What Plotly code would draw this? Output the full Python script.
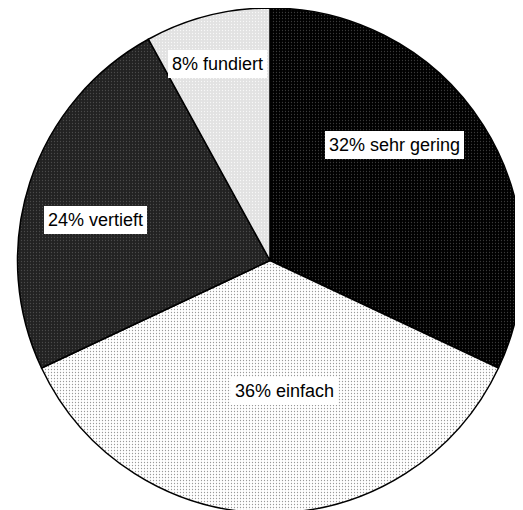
import plotly.graph_objects as go

labels = ["sehr gering", "einfach", "vertieft", "fundiert"]
values = [32, 36, 24, 8]

bg_colors = ["#000000", "#ffffff", "#222222", "#e2e2e2"]
dot_colors = ["#3a3a3a", "#9a9a9a", "#4a4a4a", "#f8f8f8"]

# the page body has an 8px margin; the figure is a little taller than the window so the pie is cut at the bottom
OFF = 8
W, H = 515, 505
cx, cy, R = 262, 252.5, 252.5

fig = go.Figure(go.Pie(
    labels=labels,
    values=values,
    sort=False,
    direction="clockwise",
    rotation=0,
    textinfo="none",
    hoverinfo="label+percent",
    showlegend=False,
    marker=dict(
        colors=bg_colors,
        line=dict(color="#000000", width=1.5),
        pattern=dict(shape=".", fgcolor=dot_colors, bgcolor=bg_colors,
                     size=3, solidity=0.14, fillmode="replace"),
    ),
    domain=dict(x=[max(0, (cx - R) / W), min(1, (cx + R) / W)],
                y=[max(0, 1 - (cy + R) / H), min(1, 1 - (cy - R) / H)]),
))

# label box centres (pixels in the reference picture)
label_pos = [(394, 145), (284, 391), (95, 220), (217, 64)]
for lab, val, (px, py) in zip(labels, values, label_pos):
    fig.add_annotation(
        x=(px - OFF) / W, y=1 - (py - OFF) / H, xref="paper", yref="paper",
        text=f"{val}% {lab}", showarrow=False,
        font=dict(family="Liberation Sans, Arial, sans-serif", size=18, color="#000000"),
        bgcolor="#ffffff", borderpad=4, borderwidth=0,
        xanchor="center", yanchor="middle",
    )

fig.update_layout(
    width=W, height=H,
    margin=dict(l=0, r=0, t=0, b=0),
    paper_bgcolor="#ffffff",
    plot_bgcolor="#ffffff",
)

fig.write_html("out.html")
